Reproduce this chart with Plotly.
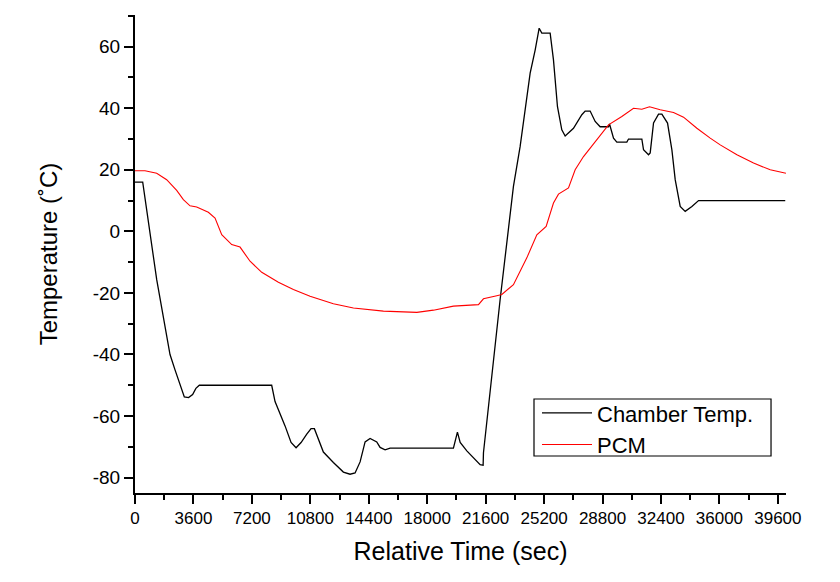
import plotly.graph_objects as go

chamber_time = [0, 475, 1337, 1540, 2157, 2465, 3038, 3300, 3550, 3750, 3962, 8420, 8627, 9243, 9613,
                9921, 10229, 10580, 10845, 11050, 11603, 12220, 12836, 13248, 13556, 13865, 14173, 14481,
                14892, 15097, 15405, 15713, 19614, 19860, 20030, 20440, 20850, 21259, 21444, 21464, 22490,
                23311, 23724, 24340, 24648, 24895, 25060, 25572, 25777, 26024, 26290, 26497, 27010, 27524,
                27729, 28037, 28345, 28653, 29166, 29229, 29475, 29680, 30296, 30399, 31221, 31324, 31632,
                31735, 31940, 32248, 32454, 32803, 33071, 33275, 33583, 33891, 34303, 34714, 40053]
chamber_temp = [16, 16, -15.7, -22, -40, -45, -53.8, -54, -53, -51, -50, -50, -55.3, -63.2, -68.6,
                -70.3, -68.6, -65.9, -64.1, -64.1, -71.7, -75.1, -78.2, -78.9, -78.5, -74.9, -68.4, -67.3,
                -68.4, -70.2, -71, -70.4, -70.4, -65.2, -68.6, -71.3, -73.5, -75.8, -76, -71.9, -22.2,
                14.6, 27.6, 51.4, 58.9, 66, 64.4, 64.4, 55.7, 40.5, 33, 31, 33.5, 37.9,
                39.1, 39.1, 35.7, 34, 34, 34.9, 30.3, 29, 29, 30, 30, 26.5, 24.9,
                25.5, 35.2, 38.1, 38.1, 35.2, 26.5, 16.8, 8.1, 6.5, 8.1, 10, 10]

pcm_time = [0, 616, 1337, 1951, 2568, 2979, 3389, 3800, 4519, 4930, 5342, 5958, 6470, 7086, 7807,
            8832, 9756, 10784, 12220, 13454, 15302, 17360, 18383, 19614, 21156, 21464, 22287, 22596,
            23311, 24135, 24752, 25326, 25777, 26085, 26702, 27113, 27627, 28449, 29166, 29989, 30707,
            31221, 31694, 32351, 33173, 33788, 34611, 35432, 36048, 37076, 38101, 39129, 40096]
pcm_temp = [19.7, 19.7, 18.9, 16.8, 13.3, 10.3, 8.3, 7.9, 6.2, 4.3, -1.1, -4.3, -5.1, -9.7, -13.3,
            -16.5, -18.9, -21.1, -23.5, -24.9, -25.9, -26.3, -25.6, -24.3, -23.8, -21.9, -20.9, -20.5,
            -17.3, -8.6, -1.1, 1.6, 9.2, 12.1, 14.1, 20, 24.3, 30, 34.6, 37.3, 40,
            39.7, 40.5, 39.5, 38.6, 37.1, 33.5, 30.3, 28.1, 24.9, 22.2, 20, 18.9]

x_ticks = [0, 3600, 7200, 10800, 14400, 18000, 21600, 25200, 28800, 32400, 36000, 39600]
y_ticks = [-80, -60, -40, -20, 0, 20, 40, 60]
y_tick_labels = ["-80", "-60", "-40", "-20", "0", "20", "40", "60"]

FONT = "Liberation Sans, Arial, sans-serif"

fig = go.Figure()
fig.add_trace(go.Scatter(x=chamber_time, y=chamber_temp, mode="lines", name="Chamber Temp.",
                         line=dict(color="black", width=1.3)))
fig.add_trace(go.Scatter(x=pcm_time, y=pcm_temp, mode="lines", name="PCM",
                         line=dict(color="#ff0000", width=1.1)))

# legend frame
fig.add_shape(type="rect", xref="paper", yref="paper",
              x0=0.6129, x1=0.977, y0=0.0774, y1=0.1967,
              line=dict(color="black", width=1.2), fillcolor="white", layer="above")

fig.update_layout(
    width=840, height=582,
    margin=dict(l=135, r=54, t=15, b=89),
    paper_bgcolor="white", plot_bgcolor="white",
    font=dict(family=FONT, color="black"),
    showlegend=True,
    legend=dict(x=0.6175, y=0.211, xanchor="left", yanchor="top",
                borderwidth=0, bgcolor="rgba(0,0,0,0)", itemwidth=50,
                font=dict(size=22, family=FONT), tracegroupgap=0),
    xaxis=dict(range=[0, 40100], tickvals=x_ticks, ticktext=[str(v) for v in x_ticks],
               showgrid=False, zeroline=False, showline=True, linecolor="black", linewidth=2,
               ticks="outside", ticklen=9, tickwidth=2, tickcolor="black",
               minor=dict(dtick=1800, tick0=0, ticks="outside", ticklen=5, tickwidth=2, tickcolor="black"),
               tickfont=dict(size=17, family=FONT),
               title=dict(text="Relative Time (sec)", font=dict(size=25, family=FONT), standoff=15)),
    yaxis=dict(range=[-85, 70.3], tickvals=y_ticks, ticktext=y_tick_labels,
               showgrid=False, zeroline=False, showline=True, linecolor="black", linewidth=2,
               ticks="outside", ticklen=9, tickwidth=2, tickcolor="black",
               minor=dict(dtick=10, tick0=0, ticks="outside", ticklen=5, tickwidth=2, tickcolor="black"),
               tickfont=dict(size=19, family=FONT),
               title=dict(text="Temperature (˚C)", font=dict(size=24, family=FONT), standoff=28)),
)

fig.write_html("out.html")
